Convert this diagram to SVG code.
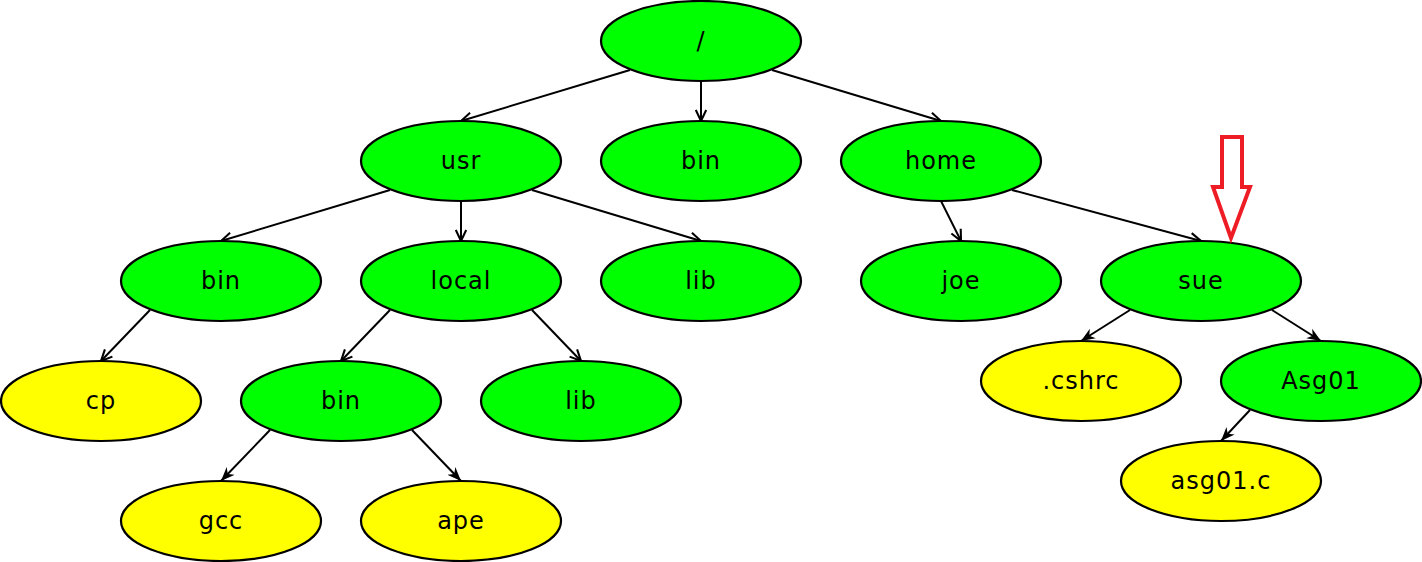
<svg xmlns="http://www.w3.org/2000/svg" width="1422" height="562" viewBox="0 0 1422 562">
<style>
.g{fill:#00ff00;stroke:#000;stroke-width:2.2}
.y{fill:#ffff00;stroke:#000;stroke-width:2.2}
text{font-family:"DejaVu Sans",sans-serif;font-size:24px;fill:#000;text-anchor:middle;letter-spacing:1px}
.e{stroke:#000;stroke-width:2;fill:none}
.o{marker-end:url(#open)}
.f{marker-end:url(#fill)}
</style>
<defs>
<marker id="open" viewBox="0 0 10 10" refX="9.5" refY="5" markerWidth="13" markerHeight="13" markerUnits="userSpaceOnUse" orient="auto">
<path d="M1,1 L9.5,5 L1,9" fill="none" stroke="#000" stroke-width="1.6"/>
</marker>
<marker id="fill" viewBox="0 0 10 10" refX="10" refY="5" markerWidth="14" markerHeight="14" markerUnits="userSpaceOnUse" orient="auto">
<path d="M0,1 L10,5 L0,9 L3,5 Z" fill="#000"/>
</marker>
</defs>
<g id="connectors">
<line class="e o" x1="630" y1="70" x2="461" y2="121"/>
<line class="e o" x1="701" y1="81" x2="701" y2="121"/>
<line class="e o" x1="772" y1="70" x2="941" y2="121"/>
<line class="e o" x1="390" y1="190" x2="221" y2="241"/>
<line class="e o" x1="461" y1="201" x2="461" y2="241"/>
<line class="e o" x1="532" y1="190" x2="701" y2="241"/>
<line class="e o" x1="150" y1="310" x2="101" y2="361"/>
<line class="e o" x1="390" y1="310" x2="341" y2="361"/>
<line class="e o" x1="532" y1="310" x2="581" y2="361"/>
<line class="e f" x1="270" y1="430" x2="221" y2="481"/>
<line class="e f" x1="412" y1="430" x2="461" y2="481"/>
<line class="e o" x1="941" y1="201" x2="961" y2="241"/>
<line class="e o" x1="1012" y1="190" x2="1201" y2="241"/>
<line class="e f" x1="1130" y1="310" x2="1081" y2="341"/>
<line class="e f" x1="1272" y1="310" x2="1321" y2="341"/>
<line class="e f" x1="1250" y1="410" x2="1221" y2="441"/>
</g>
<g id="root"><ellipse class="g" cx="701" cy="41" rx="100" ry="40"/><text x="701" y="49">/</text></g>
<g id="usr"><ellipse class="g" cx="461" cy="161" rx="100" ry="40"/><text x="461" y="169">usr</text></g>
<g id="bin1"><ellipse class="g" cx="701" cy="161" rx="100" ry="40"/><text x="701" y="169">bin</text></g>
<g id="home"><ellipse class="g" cx="941" cy="161" rx="100" ry="40"/><text x="941" y="169">home</text></g>
<g id="usr-bin"><ellipse class="g" cx="221" cy="281" rx="100" ry="40"/><text x="221" y="289">bin</text></g>
<g id="local"><ellipse class="g" cx="461" cy="281" rx="100" ry="40"/><text x="461" y="289">local</text></g>
<g id="usr-lib"><ellipse class="g" cx="701" cy="281" rx="100" ry="40"/><text x="701" y="289">lib</text></g>
<g id="joe"><ellipse class="g" cx="961" cy="281" rx="100" ry="40"/><text x="961" y="289">joe</text></g>
<g id="sue"><ellipse class="g" cx="1201" cy="281" rx="100" ry="40"/><text x="1201" y="289">sue</text></g>
<g id="cp"><ellipse class="y" cx="101" cy="401" rx="100" ry="40"/><text x="101" y="409">cp</text></g>
<g id="local-bin"><ellipse class="g" cx="341" cy="401" rx="100" ry="40"/><text x="341" y="409">bin</text></g>
<g id="local-lib"><ellipse class="g" cx="581" cy="401" rx="100" ry="40"/><text x="581" y="409">lib</text></g>
<g id="cshrc"><ellipse class="y" cx="1081" cy="381" rx="100" ry="40"/><text x="1081" y="389">.cshrc</text></g>
<g id="asg01"><ellipse class="g" cx="1321" cy="381" rx="100" ry="40"/><text x="1321" y="389">Asg01</text></g>
<g id="gcc"><ellipse class="y" cx="221" cy="521" rx="100" ry="40"/><text x="221" y="529">gcc</text></g>
<g id="ape"><ellipse class="y" cx="461" cy="521" rx="100" ry="40"/><text x="461" y="529">ape</text></g>
<g id="asg01c"><ellipse class="y" cx="1221" cy="481" rx="100" ry="40"/><text x="1221" y="489">asg01.c</text></g>
<polygon id="red-arrow" points="1222,137 1242,137 1242,187 1250,187 1231,238 1213,187 1222,187" fill="none" stroke="#ee1c24" stroke-width="4"/>
</svg>
